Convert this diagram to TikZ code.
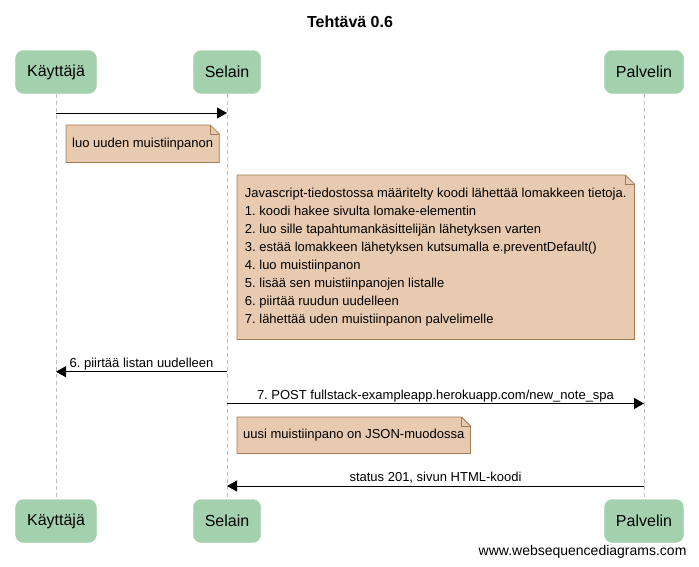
\documentclass[tikz,border=0pt]{standalone}
\usepackage{fontspec}
\setmainfont{Liberation Sans}
\usetikzlibrary{arrows.meta,backgrounds}
\frenchspacing

\definecolor{actorgreen}{RGB}{163,209,174}
\definecolor{notefill}{RGB}{232,202,176}
\definecolor{noteline}{RGB}{160,125,85}
\definecolor{lifegray}{RGB}{190,190,190}

\tikzset{
  actor/.style={rectangle, rounded corners=8pt, fill=actorgreen, draw=actorgreen,
    minimum height=43pt, inner xsep=11.5pt, font=\fontsize{16}{19}\selectfont},
  note/.style={anchor=north west, align=left, inner sep=6pt, font=\fontsize{13}{18}\selectfont},
  notebox/.style={fill=notefill, draw=noteline, line width=0.8pt},
  msg/.style={-{Triangle[length=10pt,width=11pt]}, line width=0.9pt},
  msglabel/.style={anchor=base, yshift=4.5pt, font=\fontsize{13}{16}\selectfont},
  lifeline/.style={draw=lifegray, dash pattern=on 4pt off 3pt, line width=0.8pt}
}

\begin{document}
\begin{tikzpicture}[x=1pt,y=-1pt]
\useasboundingbox (0,0) rectangle (699,566);

% otsikko
\node[font=\bfseries\fontsize{16}{19}\selectfont] (title) at (350,22) {Tehtävä 0.6};

% osapuolet ylhaalla ja alhaalla
\node[actor] (kt1) at (56,72) {Käyttäjä};
\node[actor] (se1) at (227,72) {Selain};
\node[actor] (pa1) at (644,72) {Palvelin};
\node[actor] (kt2) at (56,521) {Käyttäjä};
\node[actor] (se2) at (227,521) {Selain};
\node[actor] (pa2) at (644,521) {Palvelin};

% elinviivat
\draw[lifeline] (kt1.south) -- (kt2.north);
\draw[lifeline] (se1.south) -- (se2.north);
\draw[lifeline] (pa1.south) -- (pa2.north);

% viestirivit
\coordinate (r1) at (0,113);
\coordinate (r6) at (0,371.7);
\coordinate (r7) at (0,403.5);
\coordinate (r8) at (0,486);

\draw[msg] (kt1 |- r1) -- (se1 |- r1);

% muistiinpanot
\node[note, minimum width=150pt, minimum height=37pt] (n1) at (66,125) {luo uuden muistiinpanon};
\node[note, minimum width=397pt, minimum height=164pt] (n2) at (237,175)
  {Javascript-tiedostossa määritelty koodi lähettää lomakkeen tietoja.\\
   1. koodi hakee sivulta lomake-elementin\\
   2. luo sille tapahtumankäsittelijän lähetyksen varten\\
   3. estää lomakkeen lähetyksen kutsumalla e.preventDefault()\\
   4. luo muistiinpanon\\
   5. lisää sen muistiinpanojen listalle\\
   6. piirtää ruudun uudelleen\\
   7. lähettää uden muistiinpanon palvelimelle};
\node[note, minimum width=231pt, minimum height=36pt] (n3) at (237,417) {uusi muistiinpano on JSON-muodossa};

\begin{scope}[on background layer]
  \foreach \n in {n1,n2,n3}{
    \draw[notebox] (\n.north west) -- ([xshift=-9pt]\n.north east) -- ([yshift=-9pt]\n.north east)
      -- (\n.south east) -- (\n.south west) -- cycle;
    \draw[noteline, line width=0.8pt] ([xshift=-9pt]\n.north east) -- ([xshift=-9pt,yshift=-9pt]\n.north east)
      -- ([yshift=-9pt]\n.north east);
  }
\end{scope}

\draw[msg] (se1 |- r6) -- node[msglabel] (l6) {6. piirtää listan uudelleen} (kt1 |- r6);
\draw[msg] (se1 |- r7) -- node[msglabel] (l7) {7. POST fullstack-exampleapp.herokuapp.com/new\_note\_spa} (pa1 |- r7);
\draw[msg] (pa1 |- r8) -- node[msglabel] (l8) {status 201, sivun HTML-koodi} (se1 |- r8);

\node[anchor=base east, font=\fontsize{14}{16}\selectfont] (wsd) at (690,555.5) {www.websequencediagrams.com};
\end{tikzpicture}
\end{document}
